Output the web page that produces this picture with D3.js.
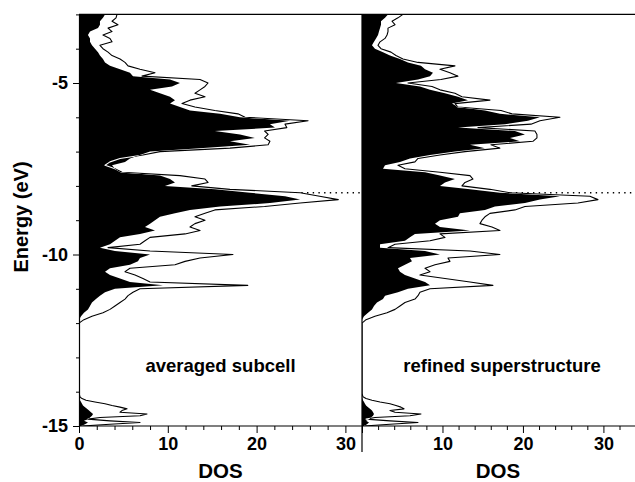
<!DOCTYPE html>
<html><head><meta charset="utf-8">
<script src="https://cdn.jsdelivr.net/npm/d3@7"></script>
<style>
body{margin:0;background:#fff}
svg{display:block}
text{font-family:"Liberation Sans",Arial,Helvetica,sans-serif;font-weight:bold;fill:#000}
</style>
</head><body>
<svg id="c" width="635" height="482"></svg>
<script>
// ---- DATA ----
const energies = [
-3.0,-3.1,-3.2,-3.3,-3.4,-3.5,-3.6,-3.7,-3.8,-3.9,
-4.0,-4.1,-4.2,-4.3,-4.4,-4.5,-4.6,-4.7,-4.8,-4.9,
-5.0,-5.1,-5.2,-5.3,-5.4,-5.5,-5.6,-5.7,-5.8,-5.9,
-6.0,-6.1,-6.2,-6.3,-6.4,-6.5,-6.6,-6.7,-6.8,-6.9,
-7.0,-7.1,-7.2,-7.3,-7.4,-7.5,-7.6,-7.7,-7.8,-7.9,
-8.0,-8.1,-8.2,-8.3,-8.4,-8.5,-8.6,-8.7,-8.8,-8.9,
-9.0,-9.1,-9.2,-9.3,-9.4,-9.5,-9.6,-9.7,-9.8,-9.9,
-10.0,-10.1,-10.2,-10.3,-10.4,-10.5,-10.6,-10.7,-10.8,-10.9,
-11.0,-11.1,-11.2,-11.3,-11.4,-11.5,-11.6,-11.7,-11.8,-11.9,
-12.0,
-13.9,-13.95,-14.0,-14.05,-14.1,-14.15,-14.2,-14.25,-14.3,-14.35,-14.4,-14.45,
-14.5,-14.55,-14.6,-14.65,-14.7,-14.75,-14.8,-14.85,-14.9,-14.95,-15.0];

// averaged subcell: filled (black) DOS and outline (total) DOS
const subcellFilled = [
2.93,2.70,2.36,2.36,2.14,1.24,1.01,1.24,1.24,1.46,
1.80,2.14,2.36,2.70,2.93,3.49,4.62,5.74,6.08,10.25,
11.37,10.47,8.00,9.12,10.25,10.81,10.25,11.37,12.5,15.88,
18.13,23.76,21.5,22.07,15.3,18.13,19.8,17.0,19.26,13.6,
8.0,6.87,5.74,5.18,3.72,4.05,4.62,9.12,10.25,10.81,
9.68,15.3,19.26,23.2,24.9,21.5,15.88,12.5,10.81,9.12,
8.56,8.0,7.43,8.56,6.87,4.62,4.05,3.49,2.36,4.05,
8.0,6.87,6.64,5.74,3.49,2.93,3.49,4.62,5.74,9.46,
4.05,2.93,2.36,1.91,1.46,1.24,1.01,0.56,0.23,0,
0,
0,0,0,0,0,0,0.06,0.11,0.23,0.34,0.45,0.68,0.9,1.13,1.35,1.58,1.46,1.24,1.01,0.56,1.01,0.68,0.23];
const subcellTotal = [
4.28,4.17,3.72,4.39,3.27,3.72,2.70,3.49,3.72,2.36,
2.70,3.27,3.72,4.62,5.18,5.52,6.87,8.56,7.09,13.63,
14.53,14.19,13.63,13.06,14.19,12.5,11.6,13.06,15.3,17.9,
18.7,25.8,23.2,23.4,20.9,21.3,20.9,21.5,21.3,17.0,
9.12,7.2,4.62,3.49,2.93,4.05,4.84,11.37,14.19,14.53,
12.7,17.0,24.9,27.1,29.2,24.9,20.9,15.3,14.19,13.06,
14.19,13.06,12.5,13.63,11.94,8.0,7.43,6.87,3.27,8.0,
17.34,13.63,11.94,10.81,5.74,5.18,6.31,7.2,8.0,19.0,
6.87,6.08,5.52,5.18,4.62,4.05,3.49,2.70,1.46,0.56,
0,
0,0,0,0,0.06,0.11,0.34,0.79,1.8,2.93,3.72,4.62,5.41,4.84,4.62,7.66,6.87,2.36,1.01,3.49,6.87,3.49,0.34];

// refined superstructure
const superFilled = [
3.23,2.86,2.36,2.36,2.24,2.11,1.99,1.74,1.49,1.24,
1.61,2.61,3.48,4.72,5.71,7.33,7.83,8.82,8.45,6.96,
4.22,7.20,8.45,10.31,11.93,13.17,11.18,11.93,15.28,17.14,
22.11,20.62,17.76,11.93,19.0,20.25,18.39,19.63,13.42,15.28,
11.55,8.45,5.96,4.72,2.86,2.61,7.83,9.69,11.55,10.31,
9.69,13.42,17.14,24.6,22.11,20.25,16.52,15.28,12.17,11.93,
9.69,9.07,9.69,13.42,6.58,5.96,5.34,2.24,2.24,7.83,
9.69,5.96,6.21,5.34,4.47,4.72,5.34,6.58,7.83,8.45,
5.71,4.47,2.86,2.61,1.86,1.49,1.24,0.75,0.25,0,
0,
0,0,0,0,0,0,0.06,0.12,0.25,0.37,0.5,0.75,0.99,1.24,1.37,1.49,1.37,1.12,0.87,0.5,0.87,0.62,0.25];
const superTotal = [
5.09,4.47,3.73,4.10,3.23,3.23,3.11,2.86,2.24,1.99,
2.36,3.60,4.22,5.09,6.96,11.55,9.69,10.93,11.93,9.81,
5.71,8.70,9.69,11.55,12.42,15.9,11.55,11.93,17.27,18.63,
24.6,22.11,21.0,14.41,21.49,21.74,21.74,21.24,16.02,17.14,
12.8,9.69,6.96,6.58,4.47,5.34,9.69,13.42,13.79,12.8,
12.42,15.9,18.39,28.32,29.32,26.83,20.25,19.0,15.9,15.28,
14.91,14.66,16.15,17.14,9.69,10.31,8.45,4.10,3.23,13.42,
17.14,10.68,10.93,9.07,7.83,8.45,7.20,10.31,13.42,16.27,
8.45,7.20,6.96,6.58,5.34,4.72,4.10,3.11,1.61,0.5,
0,
0,0,0,0,0.06,0.12,0.5,1.24,2.24,3.48,4.22,4.84,5.22,3.48,4.1,7.33,5.96,1.61,0.5,3.48,6.96,3.48,0.25];

const fermiEnergy = -8.2;
const energyTicks = [-15,-14,-13,-12,-11,-10,-9,-8,-7,-6,-5,-4,-3];
const energyTickLabels = [-15,-10,-5];
const dosTicks = [0,2,4,6,8,10,12,14,16,18,20,22,24,26,28,30,32];
const leftDosLabels = [0,10,20,30];
const rightDosLabels = [10,20,30];
const panelNames = ["averaged subcell","refined superstructure"];
const axisTitles = {y:"Energy (eV)", x:"DOS"};

// ---- CHART ----
const svg = d3.select('#c');
const y = d3.scaleLinear().domain([-15,-3]).range([426,14.4]);

const panels = [
  {x:d3.scaleLinear().domain([0,31.87]).range([79,362]), filled:subcellFilled, total:subcellTotal,
   name:panelNames[0], labels:leftDosLabels, nameX:220.5},
  {x:d3.scaleLinear().domain([0,33.8]).range([362,634]), filled:superFilled, total:superTotal,
   name:panelNames[1], labels:rightDosLabels, nameX:502}
];

const pts = arr => energies.map((e,i)=>({e, v:arr[i]}));

panels.forEach((p,k)=>{
  const g = svg.append('g');
  const [x0,x1] = p.x.range();
  const cid = 'pc'+k;
  svg.append('clipPath').attr('id',cid).append('rect')
     .attr('x',x0).attr('y',y(-3)).attr('width',x1-x0+1).attr('height',y(-15)-y(-3));
  const gc = g.append('g').attr('clip-path',`url(#${cid})`);

  // Fermi level dotted line
  gc.append('line').attr('x1',x0).attr('x2',x1+1)
    .attr('y1',y(fermiEnergy)).attr('y2',y(fermiEnergy))
    .attr('stroke','#000').attr('stroke-width',1.4).attr('stroke-dasharray','1.4,4.3');

  const area = d3.area().y(d=>y(d.e)).x0(p.x(0)).x1(d=>p.x(d.v));
  const line = d3.line().y(d=>y(d.e)).x(d=>p.x(d.v));

  // white underlay for outline curve (hides dotted line)
  gc.append('path').attr('d',area(pts(p.total))).attr('fill','#fff');
  // black filled DOS
  gc.append('path').attr('d',area(pts(p.filled))).attr('fill','#000');
  // outline curve
  gc.append('path').attr('d',line(pts(p.total))).attr('fill','none')
    .attr('stroke','#000').attr('stroke-width',1.1).attr('stroke-linejoin','round');
  const fid = 'fc'+k;
  svg.append('clipPath').attr('id',fid).append('path').attr('d',area(pts(p.filled)));
  gc.append('g').attr('clip-path',`url(#${fid})`).append('path')
    .attr('d',line(pts(p.total))).attr('fill','none')
    .attr('stroke','#fff').attr('stroke-width',1.1).attr('stroke-linejoin','round');

  // bottom axis: minor ticks
  const minor = d3.axisBottom(p.x).tickValues(dosTicks.filter(d=>d%10!==0 && p.x(d)<=x1))
    .tickSize(4).tickSizeOuter(0).tickFormat('');
  const gm = g.append('g').attr('transform','translate(0,426)').call(minor);
  gm.select('.domain').remove();
  const major = d3.axisBottom(p.x).tickValues(dosTicks.filter(d=>d%10===0 && p.x(d)<=x1))
    .tickSize(7).tickSizeOuter(0).tickPadding(4).tickFormat(d=>p.labels.includes(d)?String(d):'');
  const gM = g.append('g').attr('transform','translate(0,426)').call(major);
  gM.select('.domain').remove();
  gM.selectAll('text').attr('font-size',18).attr('font-family',null);
  g.selectAll('.tick line').attr('stroke','#000').attr('stroke-width',1);

  // panel name
  g.append('text').attr('x',p.nameX).attr('y',372).attr('text-anchor','middle')
   .attr('font-size',18.5).text(p.name);
  // DOS title
  g.append('text').attr('x',(x0+x1)/2).attr('y',478).attr('text-anchor','middle')
   .attr('font-size',20.5).text(axisTitles.x);
});

// frame lines
const fr = svg.append('g').attr('stroke','#000').attr('stroke-width',1.2);
fr.append('line').attr('x1',79).attr('x2',635).attr('y1',y(-3)).attr('y2',y(-3));
fr.append('line').attr('x1',79).attr('x2',635).attr('y1',426).attr('y2',426);
fr.append('line').attr('x1',362).attr('x2',362).attr('y1',y(-3)).attr('y2',452);

// left energy axis
const yMinor = d3.axisLeft(y).tickValues(energyTicks.filter(d=>!energyTickLabels.includes(d)))
  .tickSize(3).tickSizeOuter(0).tickFormat('');
const gy1 = svg.append('g').attr('transform','translate(79,0)').call(yMinor);
const yMajor = d3.axisLeft(y).tickValues(energyTickLabels)
  .tickSize(6).tickSizeOuter(0).tickPadding(5).tickFormat(d=>String(d));
const gy2 = svg.append('g').attr('transform','translate(79,0)').call(yMajor);
gy1.select('.domain').attr('stroke','#000').attr('stroke-width',1.2);
gy2.select('.domain').remove();
gy2.selectAll('text').attr('font-size',18).attr('font-family',null);
svg.selectAll('.tick line').attr('stroke','#000');

svg.append('text').attr('transform','translate(28,217) rotate(-90)')
  .attr('text-anchor','middle').attr('font-size',20).text(axisTitles.y);
</script>
</body></html>
